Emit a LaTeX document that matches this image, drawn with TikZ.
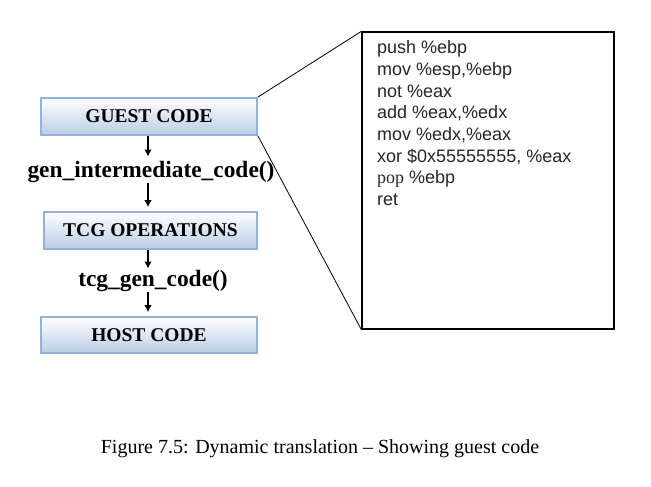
\documentclass[tikz,border=0pt]{standalone}
\usepackage{fontspec}
\setmainfont{Liberation Serif}
\setsansfont{Liberation Sans}
\usetikzlibrary{arrows.meta}
\definecolor{boxline}{RGB}{149,179,215}
\definecolor{boxbottom}{RGB}{185,205,229}
\begin{document}
\begin{tikzpicture}[x=1pt,y=-1pt,
    stage/.style={draw=boxline,line width=1.8pt,top color=white,bottom color=boxbottom,
      minimum width=216pt,minimum height=37pt,inner sep=0pt,
      font=\fontsize{19.5}{22}\selectfont\bfseries},
    call/.style={inner sep=1pt,font=\fontsize{23.4}{26}\selectfont\bfseries},
    flow/.style={-{Latex[length=7pt,width=7.5pt]},line width=1.2pt}]
    \useasboundingbox (0,0) rectangle (651,487);
    \coordinate (axis) at (148,0);
    \node[stage] (guest) at (149,116.5) {GUEST CODE};
    \node[call,anchor=base] (gen) at (151,177) {gen\_intermediate\_code()};
    \node[stage,minimum width=213pt] (tcg) at (150.5,230.5) {TCG OPERATIONS};
    \node[call,anchor=base] (gencode) at (153,286) {tcg\_gen\_code()};
    \node[stage,minimum height=36pt] (host) at (149,335) {HOST CODE};
    \node[draw,line width=1.3pt,minimum width=252pt,minimum height=297pt,inner sep=0pt] (code) at (488,180.5) {};
    \node[anchor=north west,align=left,inner sep=0pt,text=black!85,font=\sffamily\fontsize{18}{21.7}\selectfont] (listing) at (377,40.5)
      {push \%ebp\\mov \%esp,\%ebp\\not \%eax\\add \%eax,\%edx\\mov \%edx,\%eax\\xor \$0x55555555, \%eax\\{\rmfamily pop} \%ebp\\ret};
    \draw[line width=0.8pt] (guest.north east) -- (code.north west);
    \draw[line width=0.8pt] (guest.south east) -- (code.south west);
    \draw[flow,shorten >=3pt] (axis |- guest.south) -- (axis |- gen.north);
    \draw[flow,shorten >=4pt] (axis |- gen.south) -- (axis |- tcg.north);
    \draw[flow] (axis |- tcg.south) -- (axis |- gencode.north);
    \draw[flow,shorten >=4pt] (axis |- gencode.south) -- (axis |- host.north);
    \node[anchor=base,font=\fontsize{20}{24}\selectfont] (caption) at (320,453) {Figure 7.5: Dynamic translation -- Showing guest code};
\end{tikzpicture}
\end{document}
